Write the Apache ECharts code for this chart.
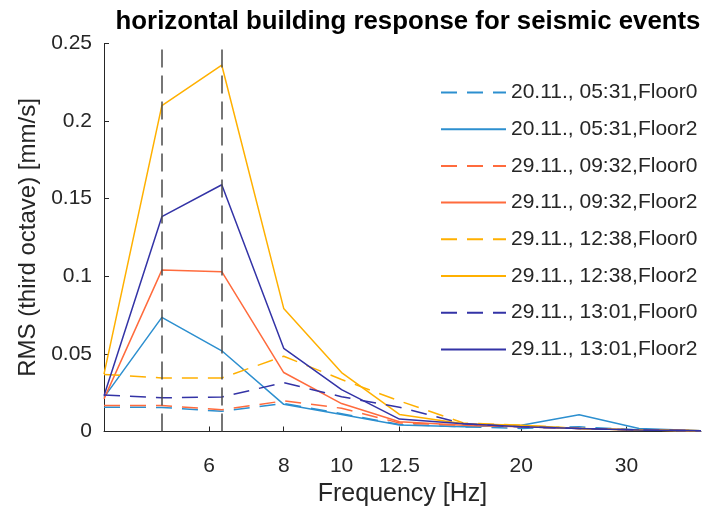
<!DOCTYPE html>
<html>
<head>
<meta charset="utf-8">
<script src="https://cdn.jsdelivr.net/npm/echarts@6/dist/echarts.min.js"></script>
<style>
html,body{margin:0;padding:0;background:#fff;}
#chart{width:715px;height:506px;}
</style>
</head>
<body>
<div id="chart"></div>
<script>
// third-octave band centre frequencies [Hz]
var freqs = [4, 5, 6.3, 8, 10, 12.5, 16, 20, 25, 31.5, 40];
var xTickValues = [6, 8, 10, 12.5, 20, 30];
var markFreqs = [5, 6.3];

var seriesNames = [
  '20.11., 05:31,Floor0',
  '20.11., 05:31,Floor2',
  '29.11., 09:32,Floor0',
  '29.11., 09:32,Floor2',
  '29.11., 12:38,Floor0',
  '29.11., 12:38,Floor2',
  '29.11., 13:01,Floor0',
  '29.11., 13:01,Floor2'
];

var ev0531_floor0 = [0.0157, 0.0155, 0.013, 0.018, 0.0115, 0.0045, 0.003, 0.002, 0.003, 0.001, 0.0005];
var ev0531_floor2 = [0.022, 0.0735, 0.052, 0.0175, 0.011, 0.0042, 0.003, 0.004, 0.0108, 0.002, 0.0005];
var ev0932_floor0 = [0.0167, 0.0167, 0.014, 0.0197, 0.015, 0.0055, 0.004, 0.003, 0.002, 0.001, 0.0005];
var ev0932_floor2 = [0.021, 0.104, 0.103, 0.038, 0.018, 0.0063, 0.004, 0.003, 0.002, 0.001, 0.0005];
var ev1238_floor0 = [0.0368, 0.0345, 0.0345, 0.0485, 0.0335, 0.0197, 0.0055, 0.004, 0.002, 0.001, 0.0005];
var ev1238_floor2 = [0.037, 0.21, 0.236, 0.0793, 0.038, 0.011, 0.005, 0.004, 0.002, 0.001, 0.0005];
var ev1301_floor0 = [0.0235, 0.0217, 0.0222, 0.0315, 0.0224, 0.0156, 0.005, 0.003, 0.002, 0.001, 0.0005];
var ev1301_floor2 = [0.023, 0.1384, 0.159, 0.0536, 0.027, 0.008, 0.005, 0.003, 0.002, 0.001, 0.0005];

var allValues = [ev0531_floor0, ev0531_floor2, ev0932_floor0, ev0932_floor2,
                 ev1238_floor0, ev1238_floor2, ev1301_floor0, ev1301_floor2];
var colors = ['#2C8FCF', '#2C8FCF', '#FF6B3D', '#FF6B3D', '#FFB000', '#FFB000', '#3333A6', '#3333A6'];
var dashed = [true, false, true, false, true, false, true, false];

var FONT = '"Liberation Sans", Arial, Helvetica, sans-serif';
var TXT = '#262626';

var series = allValues.map(function (vals, i) {
  return {
    name: seriesNames[i],
    type: 'line',
    symbol: 'none',
    data: freqs.map(function (f, j) { return [f, vals[j]]; }),
    lineStyle: { color: colors[i], width: 1.5, type: dashed[i] ? [16, 10] : 'solid' },
    itemStyle: { color: colors[i] }
  };
});
series[0].markLine = {
  silent: true,
  symbol: 'none',
  label: { show: false },
  lineStyle: { color: '#4a4a4a', width: 1.5, type: [18, 8] },
  data: markFreqs.map(function (f) { return { xAxis: f }; })
};

var chart = echarts.init(document.getElementById('chart'), null, { renderer: 'canvas' });
chart.setOption({
  animation: false,
  backgroundColor: '#ffffff',
  title: {
    text: 'horizontal building response for seismic events',
    left: 403, top: 4, textAlign: 'center',
    textStyle: { fontFamily: FONT, fontSize: 25.8, fontWeight: 'bold', color: '#000' }
  },
  grid: { left: 104, right: 14, top: 43.5, bottom: 74.5, outerBoundsMode: 'none', containLabel: false },
  legend: {
    data: seriesNames,
    orient: 'vertical',
    left: 440, top: 82, padding: 0,
    itemWidth: 65, itemHeight: 14, itemGap: 15.7,
    itemStyle: { opacity: 0 },
    textStyle: { fontFamily: FONT, fontSize: 21, color: TXT, lineHeight: 20 }
  },
  xAxis: {
    type: 'log', logBase: 10, min: 4, max: 40,
    name: 'Frequency [Hz]', nameLocation: 'middle', nameGap: 50,
    nameTextStyle: { fontFamily: FONT, fontSize: 25, color: TXT },
    axisLine: { lineStyle: { color: TXT, width: 1 } },
    axisTick: { inside: true, length: 5, customValues: xTickValues, lineStyle: { color: TXT } },
    axisLabel: { customValues: xTickValues, margin: 24, fontFamily: FONT, fontSize: 21, color: TXT,
      formatter: function (v) { return String(v); } },
    splitLine: { show: false }
  },
  yAxis: {
    type: 'value', min: 0, max: 0.25, interval: 0.05,
    name: 'RMS (third octave) [mm/s]', nameLocation: 'middle', nameGap: 62,
    nameTextStyle: { fontFamily: FONT, fontSize: 24, color: TXT },
    axisLine: { show: true, lineStyle: { color: TXT, width: 1 } },
    axisTick: { show: true, inside: true, length: 5, lineStyle: { color: TXT } },
    axisLabel: { margin: 12, fontFamily: FONT, fontSize: 21, color: TXT },
    splitLine: { show: false }
  },
  series: series
});
</script>
</body>
</html>
